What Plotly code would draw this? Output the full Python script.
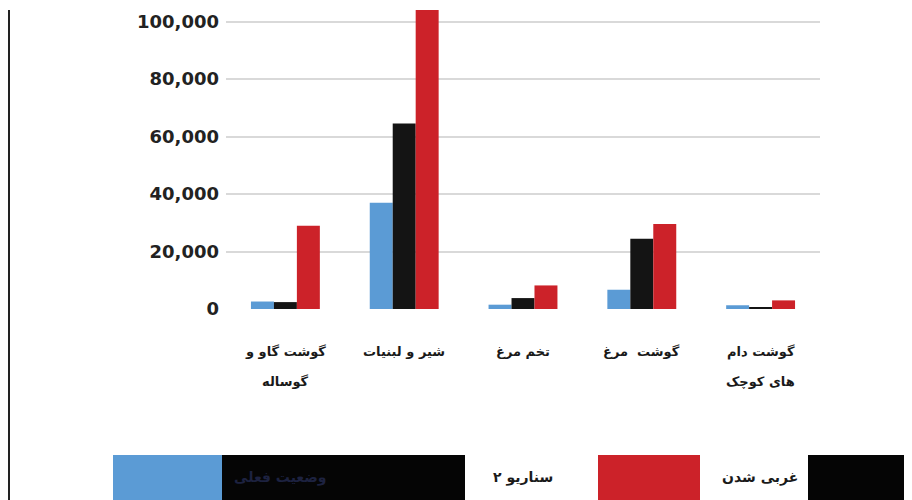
import plotly.graph_objects as go

# ---- data ----
categories = ["گوشت گاو و گوساله", "شیر و لبنیات", "تخم مرغ", "گوشت مرغ", "گوشت دام های کوچک"]
category_lines = [["گوشت گاو و", "گوساله"], ["شیر و لبنیات", ""], ["تخم مرغ", ""],
                  ["گوشت  مرغ", ""], ["گوشت دام", "های کوچک"]]
series_names = ["وضعیت فعلی", "سناریو ۲", "غربی شدن"]
current = [2600, 37000, 1500, 6700, 1300]
scenario2 = [2400, 64500, 3800, 24400, 700]
western = [29000, 105000, 8200, 29600, 3000]
y_ticks = [0, 20000, 40000, 60000, 80000, 100000]
y_tick_labels = ["0", "20,000", "40,000", "60,000", "80,000", "100,000"]

colors = ["#5b9bd5", "#141414", "#cc2229"]

fig = go.Figure()
for name, vals, col in zip(series_names, [current, scenario2, western], colors):
    fig.add_trace(go.Bar(x=categories, y=vals, name=name, marker=dict(color=col, line=dict(width=0))))

# page has an 8px body margin: work in screen pixels and shift by OFF
OFF = 8
W, H = 912 - OFF, 500 - OFF
PL, PR, PT, PB = 226, 820, 10, 309  # plot area in screen pixels
L, T = PL - OFF, PT - OFF
R, B = W - (PR - OFF), H - (PB - OFF)
PW, PH = PR - PL, PB - PT
def px(x):
    return (x - PL) / PW
def py(y):
    return (PB - y) / PH

fig.update_layout(
    width=W, height=H,
    margin=dict(l=L, r=R, t=T, b=B, pad=0),
    paper_bgcolor="white", plot_bgcolor="white",
    barmode="group", bargap=0.42, bargroupgap=0,
    showlegend=False,
    font=dict(family="DejaVu Sans", color="#1a1a1a"),
)
fig.update_yaxes(range=[0, 104000], tickvals=y_ticks, ticktext=y_tick_labels,
                 showgrid=True, gridcolor="#d9d9d9", gridwidth=1.5, zeroline=False,
                 showline=False, ticks="", ticklabelstandoff=6,
                 tickfont=dict(family="DejaVu Sans", size=18, color="#222222", weight="bold"))
fig.update_xaxes(showticklabels=False, showgrid=False, zeroline=False, showline=False, ticks="",
                 range=[-0.5, len(categories) - 0.5])

# category labels (two lines with wide spacing)
for cat, lines in zip(categories, category_lines):
    for i, line in enumerate(lines):
        if not line:
            continue
        fig.add_annotation(x=cat, xref="x", y=py(352 + 29 * i), yref="paper",
                           text=line, showarrow=False, xanchor="center", yanchor="middle",
                           font=dict(family="DejaVu Sans", size=13, color="#1a1a1a", weight="bold"))

# left border line
fig.add_shape(type="line", xref="paper", yref="paper", x0=px(9), x1=px(9), y0=py(10), y1=py(500),
              line=dict(color="#222222", width=2))

# custom legend blocks
legend_rects = [(113, 222, colors[0]), (222, 465, "#050505"), (598, 700, colors[2]), (808, 912, "#050505")]
for x0, x1, c in legend_rects:
    fig.add_shape(type="rect", xref="paper", yref="paper", x0=px(x0), x1=px(x1), y0=py(455), y1=py(505),
                  fillcolor=c, line=dict(width=0), layer="above")
legend_texts = [(280, series_names[0], "#1d2240"), (523, series_names[1], "#1a1a1a"), (760, series_names[2], "#1a1a1a")]
for x, t, c in legend_texts:
    fig.add_annotation(x=px(x), xref="paper", y=py(478), yref="paper", text=t, showarrow=False,
                       xanchor="center", yanchor="middle",
                       font=dict(family="DejaVu Sans", size=14, color=c, weight="bold"))

fig.write_html("out.html")
